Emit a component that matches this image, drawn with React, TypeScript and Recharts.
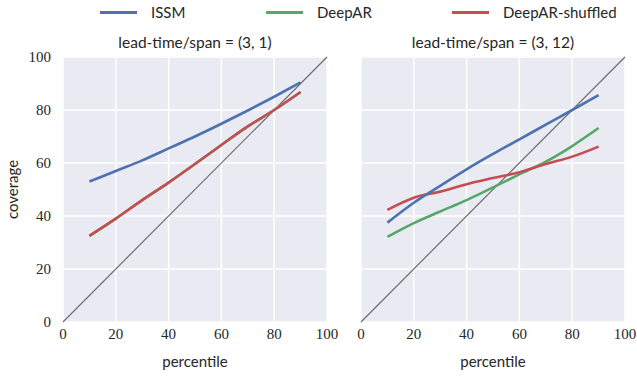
import React from "react";
import {
  CartesianGrid,
  Label,
  Line,
  LineChart,
  ReferenceLine,
  XAxis,
  YAxis,
} from "recharts";

// percentile levels on the x axis
const percentiles = [10, 20, 30, 40, 50, 60, 70, 80, 90];

// lead-time/span = (3, 1)
const issmShort = [53, 57, 61, 65.5, 70, 74.8, 79.8, 85, 90.4];
const deeparShort = [32.5, 39, 46, 52.6, 59.6, 66.8, 73.8, 80, 86.8];
const shuffledShort = [32.5, 39, 46, 52.6, 59.6, 66.8, 73.8, 80, 86.8];

// lead-time/span = (3, 12)
const issmLong = [37.5, 45, 51.4, 57.6, 63.4, 68.9, 74.5, 80, 85.6];
const deeparLong = [32.1, 37.3, 41.7, 46, 50.8, 55.7, 60.5, 66.4, 73.2];
const shuffledLong = [42.3, 46.9, 49.2, 52, 54.3, 56.5, 59.6, 62.4, 66.2];

const ticks = [0, 20, 40, 60, 80, 100];

const COLORS = { issm: "#4C72B0", deepar: "#55A868", shuffled: "#C44E52" };
const SANS = "Lato, 'Open Sans', sans-serif";
const SERIF = "Liberation Serif";

const makeRows = (a: number[], b: number[], c: number[]) =>
  percentiles.map((p, i) => ({ p, issm: a[i], deepar: b[i], shuffled: c[i] }));

const shortRows = makeRows(issmShort, deeparShort, shuffledShort);
const longRows = makeRows(issmLong, deeparLong, shuffledLong);

const legendItems = [
  { name: "ISSM", color: COLORS.issm, x: 100 },
  { name: "DeepAR", color: COLORS.deepar, x: 266 },
  { name: "DeepAR-shuffled", color: COLORS.shuffled, x: 452 },
];

const XTick = ({ x, y, payload }: any) => (
  <text x={x} y={y + 13} textAnchor="middle" fontFamily={SERIF} fontSize={15} fill="#262626" style={{ fontFamily: SERIF }}>
    {payload.value}
  </text>
);

const YTick = ({ x, y, payload }: any) => (
  <text x={x} y={y + 5} textAnchor="end" fontFamily={SERIF} fontSize={15} fill="#262626" style={{ fontFamily: SERIF }}>
    {payload.value}
  </text>
);

function Panel({
  rows,
  showY,
  width,
  marginLeft,
}: {
  rows: any[];
  showY: boolean;
  width: number;
  marginLeft: number;
}) {
  return (
    <LineChart
      width={width}
      height={379}
      data={rows}
      margin={{ top: 57, right: width - marginLeft - (showY ? 63 : 0) - 264, left: marginLeft, bottom: 0 }}
    >
      <CartesianGrid
        fill="#EAEAF2"
        stroke="#FFFFFF"
        strokeWidth={1.5}
        horizontalValues={ticks}
        verticalValues={ticks}
      />
      <XAxis
        type="number"
        dataKey="p"
        domain={[0, 100]}
        ticks={ticks}
        axisLine={false}
        tickLine={false}
        tickSize={0}
        tickMargin={4}
        height={57}
        tick={<XTick />}
      >
        <Label
          value="percentile"
          position="insideBottom"
          offset={12}
          style={{ fontSize: 15, fontFamily: SANS, fill: "#262626" }}
        />
      </XAxis>
      <YAxis
        type="number"
        domain={[0, 100]}
        ticks={ticks}
        hide={!showY}
        axisLine={false}
        tickLine={false}
        tickSize={0}
        tickMargin={12}
        width={63}
        tick={<YTick />}
      >
        <Label
          content={({ viewBox }: any) => (
            <text
              x={12}
              y={viewBox.y + viewBox.height / 2}
              transform={`rotate(-90, 12, ${viewBox.y + viewBox.height / 2})`}
              textAnchor="middle"
              dominantBaseline="central"
              style={{ fontSize: 15, fontFamily: SANS, fill: "#262626" }}
            >
              coverage
            </text>
          )}
        />
      </YAxis>
      <ReferenceLine
        segment={[
          { x: 0, y: 0 },
          { x: 100, y: 100 },
        ]}
        stroke="#6e6e6e"
        strokeWidth={1.2}
      />
      <Line
        type="monotone"
        dataKey="deepar"
        stroke={COLORS.deepar}
        strokeWidth={2.6}
        dot={false}
        isAnimationActive={false}
      />
      <Line
        type="monotone"
        dataKey="shuffled"
        stroke={COLORS.shuffled}
        strokeWidth={2.6}
        dot={false}
        isAnimationActive={false}
      />
      <Line
        type="monotone"
        dataKey="issm"
        stroke={COLORS.issm}
        strokeWidth={2.6}
        dot={false}
        isAnimationActive={false}
      />
    </LineChart>
  );
}

export default function App() {
  return (
    <div
      style={{
        position: "fixed",
        left: 0,
        top: 0,
        width: 637,
        height: 379,
        background: "#FFFFFF",
        fontFamily: SANS,
        color: "#262626",
      }}
    >
      {legendItems.map((item) => (
        <div
          key={item.name}
          style={{ position: "absolute", left: item.x, top: 2, display: "flex", alignItems: "center", height: 20 }}
        >
          <div style={{ width: 37, height: 3, background: item.color, marginRight: 14 }} />
          <span style={{ fontSize: 15 }}>{item.name}</span>
        </div>
      ))}
      <div style={{ position: "absolute", left: 63, width: 264, top: 33, textAlign: "center", fontSize: 15.5 }}>
        lead-time/span = (3, 1)
      </div>
      <div style={{ position: "absolute", left: 361, width: 264, top: 33, textAlign: "center", fontSize: 15.5 }}>
        lead-time/span = (3, 12)
      </div>
      <div style={{ position: "absolute", left: 0, top: 0 }}>
        <Panel rows={shortRows} showY={true} width={340} marginLeft={0} />
      </div>
      <div style={{ position: "absolute", left: 330, top: 0 }}>
        <Panel rows={longRows} showY={false} width={307} marginLeft={31} />
      </div>
    </div>
  );
}
